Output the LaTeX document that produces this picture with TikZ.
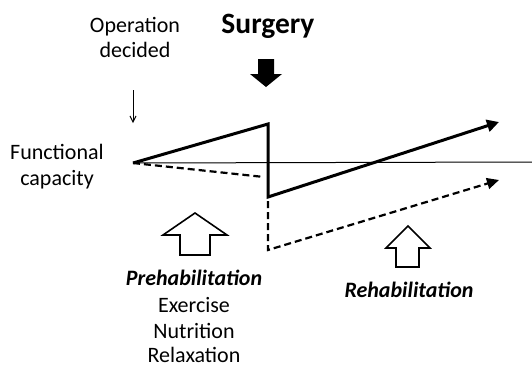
\documentclass[tikz,border=0pt]{standalone}
\usepackage{fontspec}
\setmainfont{Carlito}
\usetikzlibrary{arrows.meta}
\begin{document}
\begin{tikzpicture}[x=1pt,y=-1pt,
  lbl/.style={font=\fontsize{22}{26}\selectfont, anchor=base, inner sep=0pt},
  bi/.style={lbl, font=\bfseries\itshape\fontsize{22}{26}\selectfont},
  thickline/.style={line width=3pt, line join=miter},
  dashline/.style={line width=2.2pt, dash pattern=on 7pt off 4pt},
  openarrow/.style={draw, line width=1.6pt, fill=white, line join=miter}]
\useasboundingbox (0,0) rectangle (532,368);
% key points
\coordinate (s) at (133,163);
\coordinate (p) at (268,124);
\coordinate (b) at (268,197);
\coordinate (t) at (499,122);
\coordinate (e) at (532,162);
\coordinate (d1) at (264,177);
\coordinate (d2) at (268,201);
\coordinate (d3) at (268,250);
\coordinate (dt) at (499,180);
\coordinate (oa) at (133,90);
\coordinate (ob) at (133,123);
% thin baseline
\draw[line width=1pt] (s) -- (e);
% solid trajectory
\draw[thickline, -{Triangle[length=12pt,width=12pt]}] (s) -- (p) -- (b) -- (t);
% dashed trajectory
\draw[dashline] (s) -- (d1);
\draw[dashline, -{Triangle[length=12pt,width=11pt]}] (d2) -- (d3) -- (dt);
% texts
\node[lbl] (op1) at (135,32) {Operation};
\node[lbl] (op2) at (135,57) {decided};
\node[lbl, font=\bfseries\fontsize{29.5}{32}\selectfont] (surg) at (268,33) {Surgery};
\node[lbl] (fc1) at (57,159) {Functional};
\node[lbl] (fc2) at (57,185) {capacity};
\node[bi] (pre) at (194,285) {Prehabilitation};
\node[lbl] (ex) at (194,312) {Exercise};
\node[lbl] (nu) at (194,338) {Nutrition};
\node[lbl] (re) at (194,362) {Relaxation};
\node[bi] (reh) at (409,297) {Rehabilitation};
% operation decided arrow
\draw[line width=1pt, -{Straight Barb[length=6pt,width=6pt]}] (oa) -- (ob);
% surgery black arrow
\fill (258,59) -- (274,59) -- (274,74) -- (282,74) -- (266,87) -- (250,74) -- (258,74) -- cycle;
% prehab open arrow
\draw[openarrow] (180,255) -- (210,255) -- (210,235) -- (227,235) -- (195,213) -- (163,235) -- (180,235) -- cycle;
% rehab open arrow
\draw[openarrow] (396,267) -- (419,267) -- (419,248) -- (430,248) -- (408,226) -- (386,248) -- (396,248) -- cycle;
\end{tikzpicture}
\end{document}
